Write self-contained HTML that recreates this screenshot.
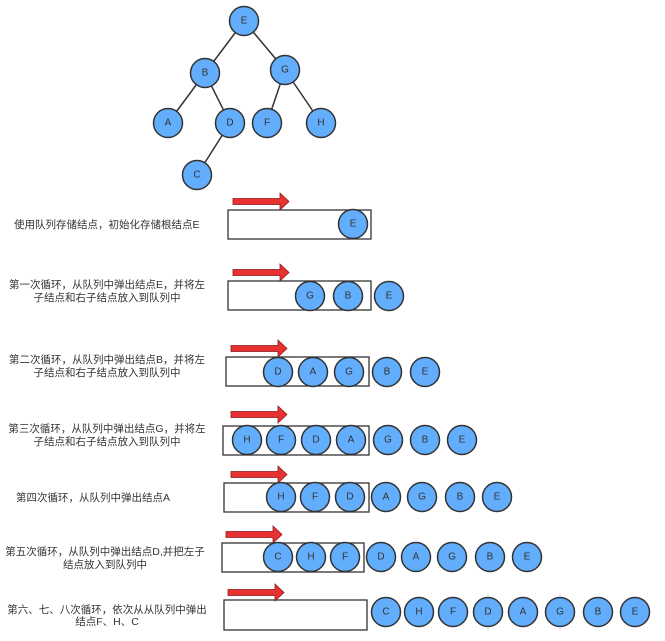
<!DOCTYPE html>
<html><head><meta charset="utf-8"><style>
html,body{margin:0;padding:0;background:#fff;}
svg{display:block;}
text{font-family:"Liberation Sans","Noto Sans CJK SC",sans-serif;}
.t{font-size:10.5px;fill:#333;}
.c{fill:#63aefc;stroke:#333;stroke-width:1.5;}
.l{font-size:10px;fill:#333;text-anchor:middle;dominant-baseline:central;}
.r{fill:none;stroke:#333;stroke-width:1.3;}
.a{fill:#e83232;stroke:#8a1a1a;stroke-width:0.8;}
</style></head><body>
<svg width="665" height="641" viewBox="0 0 665 641" xmlns="http://www.w3.org/2000/svg">
<g stroke="#333" stroke-width="1.5">
<line x1="244" y1="21" x2="205" y2="73"/><line x1="244" y1="21" x2="285" y2="70"/>
<line x1="205" y1="73" x2="168" y2="123"/><line x1="205" y1="73" x2="230" y2="123"/>
<line x1="285" y1="70" x2="267" y2="123"/><line x1="285" y1="70" x2="321" y2="123"/>
<line x1="230" y1="123" x2="197" y2="175"/>
</g>
<g id="tree"></g>
<g>
<circle class="c" cx="244" cy="21" r="14.5"/><text class="l" x="244" y="21">E</text>
<circle class="c" cx="205" cy="73" r="14.5"/><text class="l" x="205" y="73">B</text>
<circle class="c" cx="285" cy="70" r="14.5"/><text class="l" x="285" y="70">G</text>
<circle class="c" cx="168" cy="123" r="14.5"/><text class="l" x="168" y="123">A</text>
<circle class="c" cx="230" cy="123" r="14.5"/><text class="l" x="230" y="123">D</text>
<circle class="c" cx="267" cy="123" r="14.5"/><text class="l" x="267" y="123">F</text>
<circle class="c" cx="321" cy="123" r="14.5"/><text class="l" x="321" y="123">H</text>
<circle class="c" cx="197" cy="175" r="14.5"/><text class="l" x="197" y="175">C</text>
</g>

<!-- text -->
<text class="t" x="14" y="228">使用队列存储结点，初始化存储根结点E</text>
<text class="t" x="107" y="288" text-anchor="middle">第一次循环，从队列中弹出结点E，并将左</text>
<text class="t" x="107" y="301" text-anchor="middle">子结点和右子结点放入到队列中</text>
<text class="t" x="107" y="363" text-anchor="middle">第二次循环，从队列中弹出结点B，并将左</text>
<text class="t" x="107" y="376" text-anchor="middle">子结点和右子结点放入到队列中</text>
<text class="t" x="107" y="432" text-anchor="middle">第三次循环，从队列中弹出结点G，并将左</text>
<text class="t" x="107" y="445" text-anchor="middle">子结点和右子结点放入到队列中</text>
<text class="t" x="16" y="501">第四次循环，从队列中弹出结点A</text>
<text class="t" x="105" y="555" text-anchor="middle">第五次循环，从队列中弹出结点D,并把左子</text>
<text class="t" x="105" y="568" text-anchor="middle">结点放入到队列中</text>
<text class="t" x="107" y="613" text-anchor="middle">第六、七、八次循环，依次从从队列中弹出</text>
<text class="t" x="107" y="625" text-anchor="middle">结点F、H、C</text>

<!-- rects -->
<rect class="r" x="228" y="210" width="143" height="29"/>
<rect class="r" x="228" y="281" width="143" height="29"/>
<rect class="r" x="226" y="357" width="143" height="29"/>
<rect class="r" x="223" y="426" width="146" height="29"/>
<rect class="r" x="224" y="483" width="145" height="29"/>
<rect class="r" x="222" y="543" width="142" height="29"/>
<rect class="r" x="224" y="600" width="143" height="30"/>

<!-- arrows -->
<path class="a" d="M233 198.5 H280 V193 L289 201.5 L280 210 V204.5 H233 Z"/>
<path class="a" d="M233 269.5 H280 V264 L289 272.5 L280 281 V275.5 H233 Z"/>
<path class="a" d="M231 345.5 H278 V340 L287 348.5 L278 357 V351.5 H231 Z"/>
<path class="a" d="M231 411.5 H278 V406 L287 414.5 L278 423 V417.5 H231 Z"/>
<path class="a" d="M231 471.5 H278 V466 L287 474.5 L278 483 V477.5 H231 Z"/>
<path class="a" d="M226 531.5 H273 V526 L282 534.5 L273 543 V537.5 H226 Z"/>
<path class="a" d="M228 589.5 H275 V584 L284 592.5 L275 601 V595.5 H228 Z"/>

<!-- queue circles -->
<g>
<circle class="c" cx="353" cy="224" r="14.5"/><text class="l" x="353" y="224">E</text>

<circle class="c" cx="310" cy="296" r="14.5"/><text class="l" x="310" y="296">G</text>
<circle class="c" cx="348" cy="296" r="14.5"/><text class="l" x="348" y="296">B</text>
<circle class="c" cx="389" cy="296" r="14.5"/><text class="l" x="389" y="296">E</text>

<circle class="c" cx="278" cy="372" r="14.5"/><text class="l" x="278" y="372">D</text>
<circle class="c" cx="313" cy="372" r="14.5"/><text class="l" x="313" y="372">A</text>
<circle class="c" cx="349" cy="372" r="14.5"/><text class="l" x="349" y="372">G</text>
<circle class="c" cx="387" cy="372" r="14.5"/><text class="l" x="387" y="372">B</text>
<circle class="c" cx="425" cy="372" r="14.5"/><text class="l" x="425" y="372">E</text>

<circle class="c" cx="247" cy="440" r="14.5"/><text class="l" x="247" y="440">H</text>
<circle class="c" cx="281" cy="440" r="14.5"/><text class="l" x="281" y="440">F</text>
<circle class="c" cx="316" cy="440" r="14.5"/><text class="l" x="316" y="440">D</text>
<circle class="c" cx="351" cy="440" r="14.5"/><text class="l" x="351" y="440">A</text>
<circle class="c" cx="388" cy="440" r="14.5"/><text class="l" x="388" y="440">G</text>
<circle class="c" cx="425" cy="440" r="14.5"/><text class="l" x="425" y="440">B</text>
<circle class="c" cx="462" cy="440" r="14.5"/><text class="l" x="462" y="440">E</text>

<circle class="c" cx="281" cy="497" r="14.5"/><text class="l" x="281" y="497">H</text>
<circle class="c" cx="315" cy="497" r="14.5"/><text class="l" x="315" y="497">F</text>
<circle class="c" cx="350" cy="497" r="14.5"/><text class="l" x="350" y="497">D</text>
<circle class="c" cx="386" cy="497" r="14.5"/><text class="l" x="386" y="497">A</text>
<circle class="c" cx="422" cy="497" r="14.5"/><text class="l" x="422" y="497">G</text>
<circle class="c" cx="460" cy="497" r="14.5"/><text class="l" x="460" y="497">B</text>
<circle class="c" cx="497" cy="497" r="14.5"/><text class="l" x="497" y="497">E</text>

<circle class="c" cx="278" cy="557" r="14.5"/><text class="l" x="278" y="557">C</text>
<circle class="c" cx="311" cy="557" r="14.5"/><text class="l" x="311" y="557">H</text>
<circle class="c" cx="345" cy="557" r="14.5"/><text class="l" x="345" y="557">F</text>
<circle class="c" cx="381" cy="557" r="14.5"/><text class="l" x="381" y="557">D</text>
<circle class="c" cx="416" cy="557" r="14.5"/><text class="l" x="416" y="557">A</text>
<circle class="c" cx="452" cy="557" r="14.5"/><text class="l" x="452" y="557">G</text>
<circle class="c" cx="490" cy="557" r="14.5"/><text class="l" x="490" y="557">B</text>
<circle class="c" cx="527" cy="557" r="14.5"/><text class="l" x="527" y="557">E</text>

<circle class="c" cx="386" cy="612" r="14.5"/><text class="l" x="386" y="612">C</text>
<circle class="c" cx="419" cy="612" r="14.5"/><text class="l" x="419" y="612">H</text>
<circle class="c" cx="453" cy="612" r="14.5"/><text class="l" x="453" y="612">F</text>
<circle class="c" cx="488" cy="612" r="14.5"/><text class="l" x="488" y="612">D</text>
<circle class="c" cx="523" cy="612" r="14.5"/><text class="l" x="523" y="612">A</text>
<circle class="c" cx="560" cy="612" r="14.5"/><text class="l" x="560" y="612">G</text>
<circle class="c" cx="598" cy="612" r="14.5"/><text class="l" x="598" y="612">B</text>
<circle class="c" cx="635" cy="612" r="14.5"/><text class="l" x="635" y="612">E</text>
</g>
</svg>
</body></html>
